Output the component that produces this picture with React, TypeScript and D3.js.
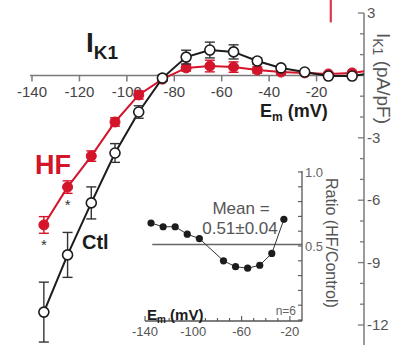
import React from "react";
import * as d3 from "d3";

// I-V relation, membrane potential (mV)
const voltages = [-135, -125, -115, -105, -95, -85, -75, -65, -55, -45, -35, -25, -15, -5, 0];
const ctlMean = [-11.38, -8.63, -6.13, -3.73, -1.76, -0.13, 0.88, 1.22, 1.13, 0.69, 0.36, 0.16, -0.03, -0.03, 0.05];
const ctlErr = [1.44, 1.08, 0.77, 0.45, 0.3, 0.15, 0.33, 0.38, 0.34, 0.15, 0.1, 0.05, 0.05, 0.05, 0];
const hfMean = [-7.19, -5.37, -3.88, -2.24, -0.94, -0.18, 0.36, 0.45, 0.4, 0.26, 0.16, 0.12, 0.07, 0.12, 0.2];
const hfErr = [0.4, 0.3, 0.25, 0.2, 0.2, 0.1, 0.15, 0.28, 0.25, 0.15, 0.1, 0.05, 0.05, 0.05, 0];
const hfSignificant = [-135, -125];

// inset: HF / control ratio
const ratioVoltages = [-135, -125, -115, -105, -95, -75, -65, -55, -45, -35, -25];
const ratioValues = [0.655, 0.63, 0.63, 0.58, 0.55, 0.4, 0.36, 0.35, 0.37, 0.45, 0.68];
const ratioMean = 0.51;

const mainXTicks = [-140, -120, -100, -80, -60, -40, -20];
const mainYTicks = [3, -3, -6, -9, -12];
const mainYMinor = d3.range(3, -14, -1);
const insetXTicks = [-140, -100, -60, -20];
const insetXMinor = d3.range(-140, -10, 10);
const insetYTicks = [1.0, 0.5];
const insetYMinor = d3.range(0, 1.01, 0.1);

// cropped trace from the panel above
const topTrace: [number, number][] = [[-14, 3.7], [-14, 2.55]];

const RED = "#d3142a";
const DARK = "#1c1c1c";
const AXIS = "#7a7a7a";
const FONT = "'Liberation Sans', Arial, Helvetica, sans-serif";

export default function App() {
  const x = d3.scaleLinear().domain([-140, 0]).range([32, 364]);
  const y = d3.scaleLinear().domain([3, -12]).range([13, 325]);
  const ix = d3.scaleLinear().domain([-140, -10]).range([145, 302]);
  const iy = d3.scaleLinear().domain([0, 1]).range([320, 172]);

  const line = d3.line<[number, number]>().x(d => x(d[0])).y(d => y(d[1]));
  const ratioLine = d3.line<[number, number]>().x(d => ix(d[0])).y(d => iy(d[1]));

  const ctlPts = voltages.map((v, i) => [v, ctlMean[i]] as [number, number]);
  const hfPts = voltages.map((v, i) => [v, hfMean[i]] as [number, number]);
  const ratioPts = ratioVoltages.map((v, i) => [v, ratioValues[i]] as [number, number]);

  const errorBars = (means: number[], errs: number[], color: string) =>
    voltages.map((v, i) => {
      if (v >= 0) return null;
      const cx = x(v);
      const y1 = y(means[i] + errs[i]);
      const y2 = y(means[i] - errs[i]);
      return (
        <g key={v} stroke={color} strokeWidth={1.4}>
          <line x1={cx} x2={cx} y1={y1} y2={y2} />
          <line x1={cx - 5} x2={cx + 5} y1={y1} y2={y1} />
          <line x1={cx - 5} x2={cx + 5} y1={y2} y2={y2} />
        </g>
      );
    });

  return (
    <svg width={395} height={345} style={{ position: "absolute", left: 0, top: 0, background: "#fff" }} fontFamily={FONT}>
      <rect width={395} height={345} fill="#fff" />

      {/* trace fragment from panel above */}
      <path d={line(topTrace) || ""} stroke={RED} strokeWidth={2.2} fill="none" opacity={0.85} />

      {/* main x axis */}
      <line x1={x(-140) - 2} x2={x(0)} y1={y(0)} y2={y(0)} stroke={AXIS} strokeWidth={1.5} />
      {mainXTicks.map(t => (
        <g key={t}>
          <line x1={x(t)} x2={x(t)} y1={y(0)} y2={y(0) + 6} stroke={AXIS} strokeWidth={1.5} />
          <text x={x(t)} y={97} textAnchor="middle" fontSize={15} fill="#444">{t}</text>
        </g>
      ))}
      <text x={260} y={117} fontSize={18} fontWeight="bold" fill={DARK}>
        E<tspan fontSize={12} dy={4}>m</tspan><tspan dy={-4}> (mV)</tspan>
      </text>

      {/* main right y axis */}
      <line x1={x(0)} x2={x(0)} y1={y(3)} y2={345} stroke={AXIS} strokeWidth={1.5} />
      {mainYMinor.map(t => (
        <line key={t} x1={x(0)} x2={x(0) - (t % 3 === 0 ? 6 : 4)} y1={y(t)} y2={y(t)} stroke={AXIS} strokeWidth={1.3} />
      ))}
      {mainYTicks.map(t => (
        <text key={t} x={x(0) + 3} y={y(t) + 5} fontSize={15} fill="#555">{t}</text>
      ))}
      <text transform="translate(377,33) rotate(90)" fontSize={19} fill="#555">
        I<tspan fontSize={14} dy={4}>K1</tspan><tspan dy={-4}> (pA/pF)</tspan>
      </text>

      {/* HF series */}
      <path d={line(hfPts) || ""} stroke={RED} strokeWidth={2} fill="none" />
      {errorBars(hfMean, hfErr, RED)}
      {hfPts.filter(d => d[0] < 0).map(d => (
        <circle key={d[0]} cx={x(d[0])} cy={y(d[1])} r={5} fill={RED} stroke={RED} strokeWidth={1} />
      ))}
      {hfSignificant.map(v => {
        const i = voltages.indexOf(v);
        return (
          <text key={v} x={x(v)} y={y(hfMean[i] - hfErr[i]) + 17} textAnchor="middle" fontSize={15} fill="#333">*</text>
        );
      })}

      {/* Ctl series */}
      <path d={line(ctlPts) || ""} stroke={DARK} strokeWidth={2} fill="none" />
      {errorBars(ctlMean, ctlErr, "#333")}
      {ctlPts.filter(d => d[0] < 0).map(d => (
        <circle key={d[0]} cx={x(d[0])} cy={y(d[1])} r={5} fill="#fff" stroke={DARK} strokeWidth={1.6} />
      ))}

      {/* labels */}
      <text x={86} y={52} fontSize={28} fontWeight="bold" fill={DARK}>
        I<tspan fontSize={19} dy={7}>K1</tspan>
      </text>
      <text x={35} y={174} fontSize={27} fontWeight="bold" fill={RED}>HF</text>
      <text x={82} y={249} fontSize={20} fontWeight="bold" fill={DARK}>Ctl</text>

      {/* inset */}
      <line x1={ix(-140)} x2={ix(-10)} y1={iy(0) + 1} y2={iy(0) + 1} stroke="#555" strokeWidth={1.3} />
      {insetXMinor.map(t => (
        <line key={t} x1={ix(t)} x2={ix(t)} y1={iy(0) + 1} y2={iy(0) + 1 - ((t + 140) % 40 === 0 ? 5 : 3)} stroke="#555" strokeWidth={1.1} />
      ))}
      {insetXTicks.map(t => (
        <text key={t} x={ix(t)} y={336} textAnchor="middle" fontSize={13} fill="#555">{t}</text>
      ))}
      <line x1={ix(-10)} x2={ix(-10)} y1={iy(1) - 1} y2={iy(0) + 1} stroke="#555" strokeWidth={1.3} />
      {insetYMinor.map(t => (
        <line key={t} x1={ix(-10)} x2={ix(-10) - 4} y1={iy(t)} y2={iy(t)} stroke="#555" strokeWidth={1.1} />
      ))}
      {insetYTicks.map(t => (
        <text key={t} x={ix(-10) + 3} y={iy(t) + 5} fontSize={13} fill="#666">{t.toFixed(1)}</text>
      ))}
      <text transform="translate(326,178) rotate(90)" fontSize={16} fill="#555">Ratio (HF/Control)</text>
      <text x={147} y={320} fontSize={15} fontWeight="bold" fill={DARK}>
        E<tspan fontSize={10} dy={3}>m</tspan><tspan dy={-3}> (mV)</tspan>
      </text>
      <text x={296} y={315} textAnchor="end" fontSize={12} fill="#666">n=6</text>

      <line x1={ix(-134)} x2={ix(-10)} y1={iy(ratioMean)} y2={iy(ratioMean)} stroke="#666" strokeWidth={1.6} />
      <path d={ratioLine(ratioPts) || ""} stroke="#333" strokeWidth={1} fill="none" />
      {ratioPts.map(d => (
        <circle key={d[0]} cx={ix(d[0])} cy={iy(d[1])} r={3.6} fill={DARK} />
      ))}
      <text x={241} y={214} textAnchor="middle" fontSize={17} fill="#555">Mean =</text>
      <text x={240} y={234} textAnchor="middle" fontSize={17} fill="#555">0.51±0.04</text>
    </svg>
  );
}
